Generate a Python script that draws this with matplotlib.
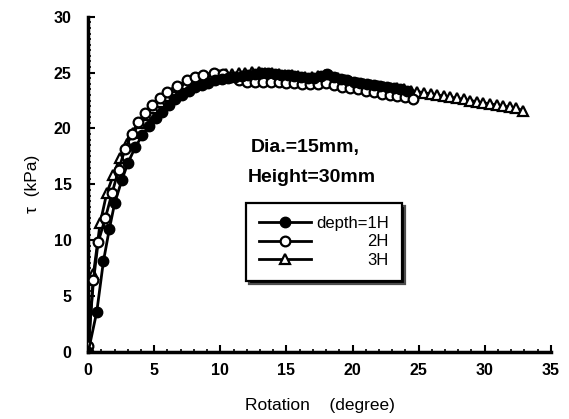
import matplotlib.pyplot as plt
from matplotlib.ticker import MultipleLocator

plt.rcParams['font.family'] = ['Liberation Sans', 'DejaVu Sans']

# depth = 1H (filled circles)
rot_1h = [0, 0.65, 1.15, 1.6, 2.0, 2.55, 3.0, 3.55, 4.1, 4.6, 5.1, 5.6, 6.1, 6.6,
          7.1, 7.6, 8.1, 8.6, 9.1, 9.6, 10.1, 10.6, 11.1, 11.6, 12.1, 12.6, 13.1,
          13.6, 14.1, 14.6, 15.1, 15.6, 16.1, 16.6, 17.1, 17.6, 18.1, 18.6, 19.1,
          19.6, 20.1, 20.6, 21.1, 21.6, 22.1, 22.6, 23.1, 23.6, 24.1]
tau_1h = [0, 3.6, 8.1, 11.0, 13.3, 15.4, 16.9, 18.3, 19.4, 20.2, 20.9, 21.5, 22.1,
          22.6, 23.0, 23.4, 23.7, 23.9, 24.1, 24.3, 24.4, 24.5, 24.6, 24.7, 24.8,
          24.9, 25.0, 25.0, 24.9, 24.8, 24.8, 24.7, 24.6, 24.5, 24.5, 24.7, 24.9,
          24.6, 24.4, 24.3, 24.2, 24.1, 24.0, 23.9, 23.8, 23.7, 23.6, 23.5, 23.4]

# depth = 2H (open circles)
rot_2h = [0, 0.4, 0.75, 1.3, 1.8, 2.3, 2.8, 3.3, 3.8, 4.3, 4.8, 5.4, 6.0, 6.7, 7.5,
          8.1, 8.7, 9.5, 10.2, 10.8, 11.4, 12.0, 12.6, 13.2, 13.8, 14.4, 15.0, 15.6,
          16.2, 16.8, 17.4, 18.0, 18.6, 19.2, 19.8, 20.4, 21.0, 21.6, 22.2, 22.8,
          23.4, 24.0, 24.6]
tau_2h = [0.5, 6.4, 9.8, 12.0, 14.2, 16.3, 18.2, 19.5, 20.6, 21.4, 22.1, 22.7, 23.3,
          23.8, 24.3, 24.6, 24.8, 25.0, 24.9, 24.6, 24.3, 24.2, 24.2, 24.2, 24.2,
          24.2, 24.1, 24.1, 24.0, 24.0, 24.0, 24.1, 23.9, 23.7, 23.6, 23.5, 23.4,
          23.3, 23.1, 23.0, 22.9, 22.8, 22.6]

# depth = 3H (open triangles)
rot_3h = [0, 0.4, 0.9, 1.4, 1.9, 2.4, 2.9, 3.4, 3.9, 4.4, 4.9, 5.4, 5.9, 6.4, 6.9,
          7.4, 7.9, 8.4, 8.9, 9.4, 9.9, 10.4, 10.9, 11.4, 11.9, 12.4, 12.9, 13.4,
          13.9, 14.4, 14.9, 15.4, 15.9, 16.4, 16.9, 17.4, 17.9, 18.4, 18.9, 19.4,
          19.9, 20.4, 20.9, 21.4, 21.9, 22.4, 22.9, 23.4, 23.9, 24.4, 24.9, 25.4,
          25.9, 26.4, 26.9, 27.4, 27.9, 28.4, 28.9, 29.4, 29.9, 30.4, 30.9, 31.4,
          31.9, 32.4, 32.9]
tau_3h = [0, 7.0, 11.5, 14.2, 15.8, 17.4, 18.6, 19.6, 20.5, 21.2, 21.8, 22.4, 22.9,
          23.3, 23.7, 24.0, 24.3, 24.5, 24.6, 24.7, 24.8, 24.9, 24.9, 25.0, 25.0,
          25.1, 25.1, 25.0, 25.0, 24.9, 24.8, 24.8, 24.7, 24.6, 24.6, 24.7, 24.8,
          24.7, 24.5, 24.3, 24.2, 24.1, 24.0, 23.9, 23.8, 23.7, 23.6, 23.6, 23.5,
          23.4, 23.3, 23.2, 23.1, 23.0, 22.9, 22.8, 22.7, 22.6, 22.5, 22.4, 22.3,
          22.2, 22.1, 22.0, 21.9, 21.8, 21.6]

labels = ['depth=1H', '2H', '3H']

fig = plt.figure(figsize=(5.69, 4.19), dpi=100)
ax = fig.add_axes([0.155, 0.16, 0.813, 0.8])

ax.plot(rot_3h, tau_3h, color='black', lw=2, marker='^', ms=7,
        mfc='white', mec='black', mew=1.6, label=labels[2], zorder=2)
ax.plot(rot_2h, tau_2h, color='black', lw=2, marker='o', ms=7,
        mfc='white', mec='black', mew=1.6, label=labels[1], zorder=3)
ax.plot(rot_1h, tau_1h, color='black', lw=2, marker='o', ms=7.5,
        mfc='black', mec='black', label=labels[0], zorder=4)

ax.set_xlim(0, 35)
ax.set_ylim(0, 30)
ax.xaxis.set_major_locator(MultipleLocator(5))
ax.xaxis.set_minor_locator(MultipleLocator(1))
ax.yaxis.set_major_locator(MultipleLocator(5))
ax.yaxis.set_minor_locator(MultipleLocator(0.5))

for side in ['top', 'right']:
    ax.spines[side].set_visible(False)
for side in ['left', 'bottom']:
    ax.spines[side].set_linewidth(2.5)

ax.tick_params(which='major', direction='in', length=5, width=1.5,
               labelsize=11.5, pad=8)
ax.tick_params(which='minor', direction='in', length=2.5, width=1.2)
ax.tick_params(axis='y', which='major', pad=12)
for lab in ax.get_xticklabels() + ax.get_yticklabels():
    lab.set_fontweight('bold')

ax.set_xlabel('Rotation    (degree)', fontsize=12.5, labelpad=14)
ax.set_ylabel('τ  (kPa)', fontsize=12.5, labelpad=10)

ax.text(12.3, 18.3, 'Dia.=15mm,', fontsize=14, fontweight='bold',
        ha='left', va='center')
ax.text(12.1, 15.6, 'Height=30mm', fontsize=14, fontweight='bold',
        ha='left', va='center')

handles, _ = ax.get_legend_handles_labels()
leg = ax.legend(handles[::-1], labels, loc='upper left',
                bbox_to_anchor=(0.341, 0.445), borderaxespad=0,
                fontsize=12, handlelength=3.1, handletextpad=0.3,
                labelspacing=0.2, borderpad=0.8, fancybox=False,
                framealpha=1, edgecolor='black',
                shadow={'facecolor': 'black', 'alpha': 1}, numpoints=1)
leg.get_frame().set_linewidth(1.6)

# right-align the legend labels
fig.canvas.draw()
texts = leg.get_texts()
widths = [t.get_window_extent().width for t in texts]
for t, w in zip(texts, widths):
    t.set_position((max(widths) - w, 0))

fig.savefig('out.png', dpi=100)
